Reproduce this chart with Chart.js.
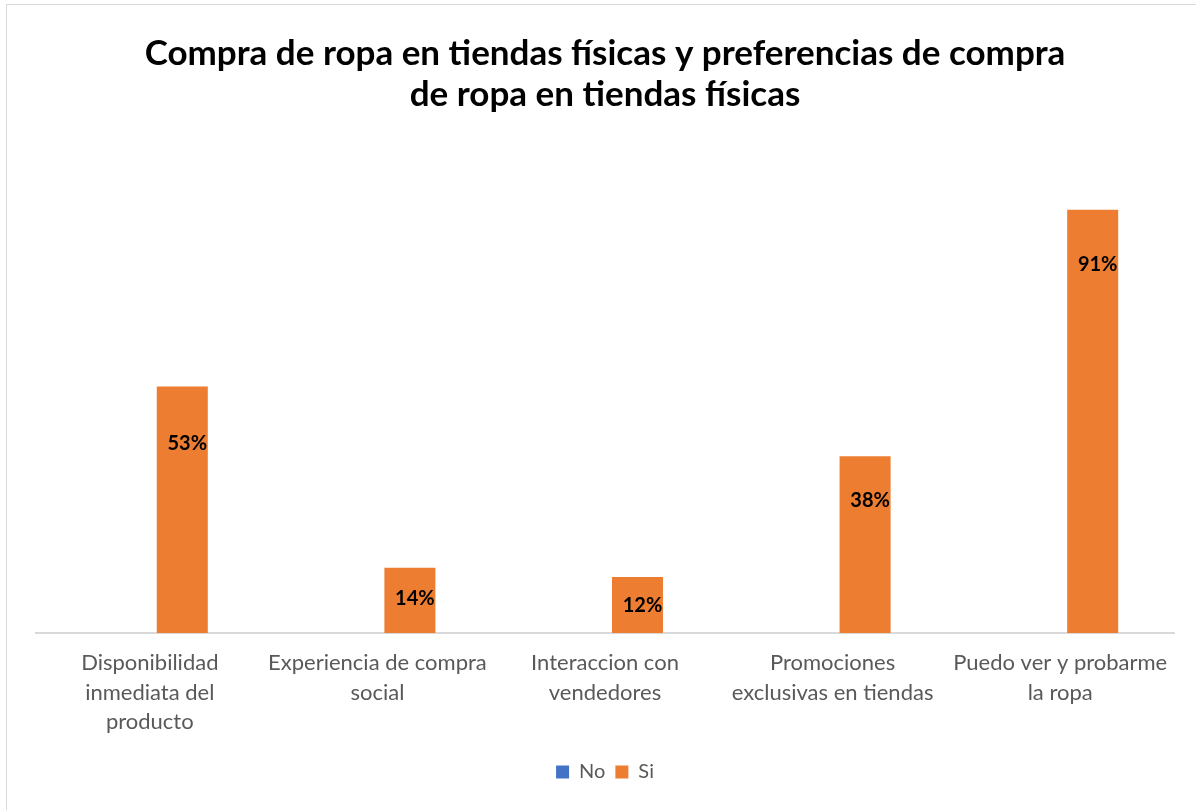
<!DOCTYPE html>
<html>
<head>
<meta charset="utf-8">
<script src="https://cdn.jsdelivr.net/npm/chart.js@4.4.0/dist/chart.umd.min.js"></script>
<style>
  html, body { margin: 0; padding: 0; background: #fff; overflow: hidden; }
  #wrap { position: relative; width: 1196px; height: 810px; }
  #frame { position: absolute; left: 6px; top: 4px; width: 1200px; height: 820px; border: 1px solid #d9d9d9; box-sizing: border-box; pointer-events: none; }
  canvas { position: absolute; left: 0; top: 0; }
</style>
</head>
<body>
<div id="wrap">
  <canvas id="c" width="1196" height="810"></canvas>
  <div id="frame"></div>
</div>
<script>
const categories = [
  ["Disponibilidad", "inmediata del", "producto"],
  ["Experiencia de compra", "social"],
  ["Interaccion con", "vendedores"],
  ["Promociones", "exclusivas en tiendas"],
  ["Puedo ver y probarme", "la ropa"]
];
const seriesNames = ["No", "Si"];
const noValues = [0, 0, 0, 0, 0];
const siValues = [0.53, 0.14, 0.12, 0.38, 0.91];
const siLabels = ["53%", "14%", "12%", "38%", "91%"];

const labelPlugin = {
  id: 'barLabels',
  afterDatasetsDraw(chart, args, opts) {
    const ctx = chart.ctx;
    const meta = chart.getDatasetMeta(1);
    ctx.save();
    ctx.font = 'bold 20px Lato, "Open Sans", sans-serif';
    ctx.fillStyle = '#000';
    ctx.textAlign = 'center';
    ctx.textBaseline = 'middle';
    meta.data.forEach((bar, i) => {
      const off = opts.offsets[i];
      ctx.fillText(siLabels[i], bar.x + 5, bar.y + off);
    });
    ctx.restore();
  }
};

new Chart(document.getElementById('c'), {
  type: 'bar',
  data: {
    labels: categories,
    datasets: [
      { label: seriesNames[0], data: noValues, backgroundColor: '#4472C4' },
      { label: seriesNames[1], data: siValues, backgroundColor: '#ED7D31' }
    ]
  },
  options: {
    responsive: false,
    animation: false,
    devicePixelRatio: 1,
    layout: { padding: { left: 36, right: 22, top: 0, bottom: 18 } },
    datasets: { bar: { categoryPercentage: 0.571, barPercentage: 0.785 } },
    scales: {
      x: {
        grid: { display: false, drawTicks: false },
        border: { display: true, color: '#d9d9d9', width: 2 },
        ticks: { color: '#595959', font: { size: 22, family: 'Lato, "Open Sans", sans-serif', lineHeight: 1.32 }, padding: 16, maxRotation: 0, autoSkip: false },
      },
      y: { display: false, min: 0, max: 1 }
    },
    plugins: {
      title: {
        display: true,
        text: ["Compra de ropa en tiendas físicas y preferencias de compra", "de ropa en tiendas físicas"],
        color: '#000',
        font: { size: 35, weight: 'bold', family: 'Lato, "Open Sans", sans-serif', lineHeight: 1.17 },
        padding: { top: 33, bottom: 53 }
      },
      legend: {
        position: 'bottom',
        labels: {
          color: '#595959',
          font: { size: 20, family: 'Lato, "Open Sans", sans-serif' },
          boxWidth: 13, boxHeight: 13, padding: 10
        }
      },
      tooltip: { enabled: false },
      barLabels: { offsets: [57, 31, 28, 44, 55] }
    }
  },
  plugins: [labelPlugin]
});
</script>
</body>
</html>
